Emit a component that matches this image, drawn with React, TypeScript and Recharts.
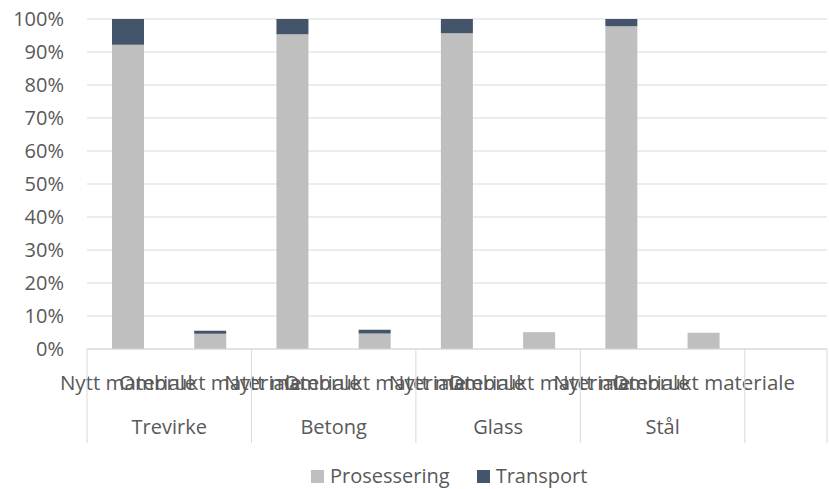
import React from 'react';
import { BarChart, Bar, XAxis, YAxis, CartesianGrid, Legend } from 'recharts';

const categories = [
  'Nytt materiale', 'Ombrukt materiale',
  'Nytt materiale', 'Ombrukt materiale',
  'Nytt materiale', 'Ombrukt materiale',
  'Nytt materiale', 'Ombrukt materiale',
  '',
];
const groups = ['Trevirke', 'Betong', 'Glass', 'Stål'];
const prosessering = [92.2, 4.6, 95.4, 4.7, 95.7, 4.9, 97.8, 4.9, null];
const transport = [7.8, 0.9, 4.6, 1.1, 4.3, 0.1, 2.2, 0.05, null];
const yTicks = [0, 10, 20, 30, 40, 50, 60, 70, 80, 90, 100];

const series = [
  { key: 'prosessering', name: 'Prosessering', color: '#bfbfbf' },
  { key: 'transport', name: 'Transport', color: '#44546a' },
];

const rows = categories.map((cat, i) => ({
  cat,
  group: groups[Math.floor(i / 2)] ?? '',
  prosessering: prosessering[i],
  transport: transport[i],
}));

const W = 829;
const H = 489;
const MARGIN = { top: 19, right: 2, bottom: 0, left: 0 };
const Y_AXIS_W = 87;
const X1_H = 50;
const X2_H = 45;
const BAND = (W - MARGIN.left - MARGIN.right - Y_AXIS_W) / categories.length;
const FONT = '"Open Sans", "Noto Sans", sans-serif';
const TEXT = '#595959';
const LINE = '#d9d9d9';

function GroupTick(props: any) {
  const { x, y, index } = props;
  const isStart = index % 2 === 0;
  const isLast = index === rows.length - 1;
  const label = isStart ? rows[index].group : '';
  return (
    <g>
      {isStart && (
        <line x1={x - BAND / 2} x2={x - BAND / 2} y1={y - X1_H} y2={y + X2_H - 1} stroke={LINE} />
      )}
      {isLast && (
        <line x1={x + BAND / 2} x2={x + BAND / 2} y1={y - X1_H} y2={y + X2_H - 1} stroke={LINE} />
      )}
      {label && (
        <text x={x + BAND / 2} y={y + 35} textAnchor="middle" fill={TEXT} fontSize={20} fontFamily={FONT}>
          {label}
        </text>
      )}
    </g>
  );
}

function LegendContent() {
  return (
    <div style={{ height: 45, display: 'flex', alignItems: 'flex-start', paddingTop: 22, paddingLeft: 311, boxSizing: 'border-box', fontFamily: FONT, fontSize: 20, color: TEXT, lineHeight: '20px' }}>
      {series.map((s, i) => (
        <div key={s.key} style={{ display: 'flex', alignItems: 'center', marginLeft: i === 0 ? 0 : 27 }}>
          <div style={{ width: 13, height: 13, background: s.color, marginRight: 6 }} />
          <span>{s.name}</span>
        </div>
      ))}
    </div>
  );
}

export default function App() {
  return (
    <div style={{ position: 'absolute', left: 0, top: 0, width: W, height: H, background: '#fff' }}>
      <BarChart width={W} height={H} data={rows} margin={MARGIN}>
        <CartesianGrid vertical={false} stroke={LINE} />
        <XAxis
          dataKey="cat"
          xAxisId="cat"
          interval={0}
          height={X1_H}
          tickLine={false}
          tickMargin={20}
          axisLine={{ stroke: LINE }}
          tick={{ fill: TEXT, fontSize: 20.5, fontFamily: FONT }}
        />
        <XAxis
          dataKey="group"
          xAxisId="group"
          interval={0}
          height={X2_H}
          tickLine={false}
          tickSize={0}
          tickMargin={0}
          axisLine={false}
          tick={(p: any) => <GroupTick {...p} />}
        />
        <YAxis
          width={Y_AXIS_W}
          domain={[0, 100]}
          ticks={yTicks}
          tickFormatter={(v: number) => `${v}%`}
          axisLine={false}
          tickLine={false}
          tickMargin={17}
          tick={{ fill: TEXT, fontSize: 20, fontFamily: FONT }}
        />
        <Legend verticalAlign="bottom" content={() => <LegendContent />} />
        {series.map((s) => (
          <Bar
            key={s.key}
            dataKey={s.key}
            name={s.name}
            stackId="a"
            xAxisId="cat"
            fill={s.color}
            barSize={32}
            isAnimationActive={false}
          />
        ))}
      </BarChart>
    </div>
  );
}
